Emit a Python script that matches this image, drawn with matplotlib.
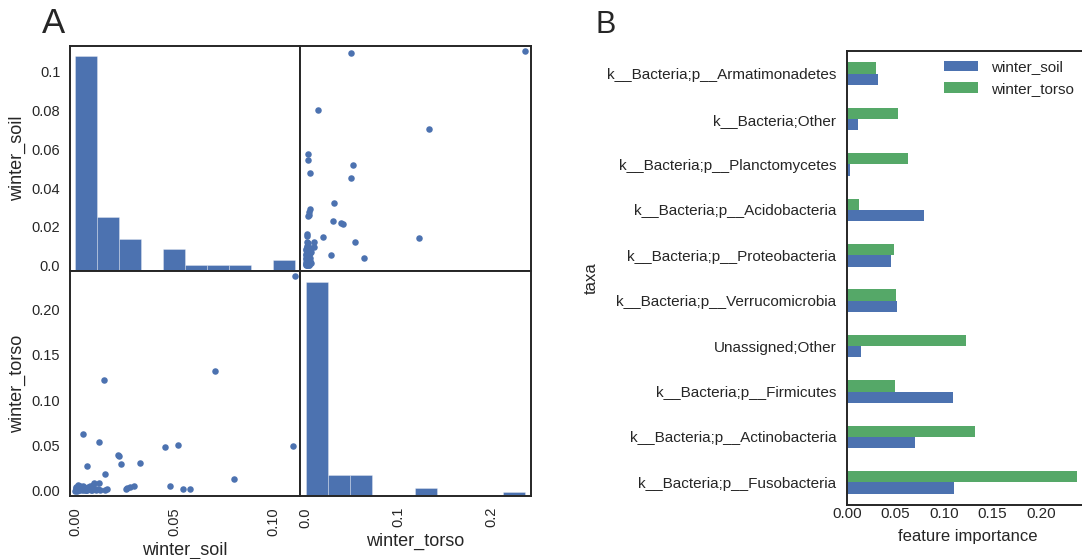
import numpy as np
import matplotlib.pyplot as plt
from matplotlib.ticker import MultipleLocator

plt.rcParams['font.family'] = ['Liberation Sans', 'DejaVu Sans']
plt.rcParams['text.color'] = '.15'
plt.rcParams['axes.labelcolor'] = '.15'
plt.rcParams['xtick.color'] = '.15'
plt.rcParams['ytick.color'] = '.15'
plt.rcParams['axes.edgecolor'] = '.15'
plt.rcParams['axes.linewidth'] = 1.4
plt.rcParams['xtick.major.size'] = 0
plt.rcParams['ytick.major.size'] = 0

BLUE = '#4C72B0'
GREEN = '#55A868'

# top 10 taxa by combined importance (bottom to top in the bar chart)
taxa = ['k__Bacteria;p__Fusobacteria', 'k__Bacteria;p__Actinobacteria',
        'k__Bacteria;p__Firmicutes', 'Unassigned;Other',
        'k__Bacteria;p__Verrucomicrobia', 'k__Bacteria;p__Proteobacteria',
        'k__Bacteria;p__Acidobacteria', 'k__Bacteria;p__Planctomycetes',
        'k__Bacteria;Other', 'k__Bacteria;p__Armatimonadetes']
soil_top = [0.1107, 0.0704, 0.1096, 0.0145, 0.0519, 0.0452, 0.0801, 0.0039, 0.0121, 0.0324]
torso_top = [0.2367, 0.1326, 0.0493, 0.1226, 0.0508, 0.0486, 0.0131, 0.0627, 0.0533, 0.0305]

# the remaining taxa
soil_rest = [0.0213, 0.0218, 0.0230, 0.0057, 0.0148, 0.0476, 0.0577, 0.0543, 0.0294,
             0.0275, 0.0256, 0.0262, 0.0162, 0.0152, 0.0122, 0.0094, 0.0124, 0.0116,
             0.0003, 0.0011, 0.0006, 0.0019, 0.0024, 0.0009, 0.0031, 0.0015, 0.0042,
             0.0037, 0.0004, 0.0052, 0.0027, 0.0061, 0.0048, 0.0013, 0.0072, 0.0035,
             0.0058, 0.0081, 0.0021, 0.0066, 0.0001, 0.0044, 0.0089, 0.0017, 0.0097,
             0.0029, 0.0055, 0.0008, 0.0076, 0.0103, 0.0039, 0.0069, 0.0002, 0.0086,
             0.0047]
torso_rest = [0.0398, 0.0380, 0.0297, 0.0269, 0.0183, 0.0046, 0.0020, 0.0020, 0.0048,
              0.0040, 0.0022, 0.0030, 0.0014, 0.0012, 0.0084, 0.0086, 0.0010, 0.0022,
              0.0012, 0.0004, 0.0031, 0.0009, 0.0047, 0.0001, 0.0022, 0.0058, 0.0006,
              0.0035, 0.0018, 0.0011, 0.0040, 0.0003, 0.0027, 0.0014, 0.0052, 0.0002,
              0.0033, 0.0008, 0.0025, 0.0044, 0.0000, 0.0019, 0.0061, 0.0007, 0.0015,
              0.0038, 0.0005, 0.0021, 0.0029, 0.0010, 0.0049, 0.0013, 0.0036, 0.0003,
              0.0016]

columns = ['winter_soil', 'winter_torso']
data = [np.array(soil_top + soil_rest), np.array(torso_top + torso_rest)]
steps_x = [0.05, 0.1]
steps_y = [0.02, 0.05]


def bounds(v, pad=0.05):
    ext = (v.max() - v.min()) * pad / 2
    return v.min() - ext, v.max() + ext


fig = plt.figure(figsize=(10.82, 5.59), dpi=100)

# ---- A: scatter matrix ----
W, H = 1082, 559
left, right, top, bottom = 70, 530.5, 45.7, 496
cw = (right - left) / 2
ch = (bottom - top) / 2
lims = [bounds(v) for v in data]
axes = [[None, None], [None, None]]
for i in range(2):
    for j in range(2):
        ax = fig.add_axes([(left + j * cw) / W, 1 - (top + (i + 1) * ch) / H, cw / W, ch / H])
        axes[i][j] = ax
        if i == j:
            ax.hist(data[i], bins=10, color=BLUE, edgecolor=(1, 1, 1, 0.35), linewidth=0.6)
            ax.set_xlim(lims[i])
        else:
            ax.scatter(data[j], data[i], s=22, color=BLUE, linewidths=0)
            ax.set_xlim(lims[j])
            ax.set_ylim(lims[i])
            ax.yaxis.set_major_locator(MultipleLocator(steps_y[i]))
        ax.xaxis.set_major_locator(MultipleLocator(steps_x[j]))
        ax.tick_params(labelsize=10.5)
        ax.tick_params(axis='x', labelrotation=90, pad=8)
        ax.tick_params(axis='y', pad=7)
        if j == 0:
            ax.set_ylabel(columns[i], fontsize=13)
        else:
            ax.yaxis.set_visible(False)
        if i == 1:
            ax.set_xlabel(columns[j], fontsize=13)
        else:
            ax.xaxis.set_visible(False)

# relabel the top-left histogram with winter_soil values
lo, hi = lims[0]
locs = np.arange(0, hi, steps_y[0])
locs = locs[(locs >= lo) & (locs <= hi)]
ylo, yhi = axes[0][0].get_ylim()
axes[0][0].set_yticks((locs - lo) / (hi - lo) * (yhi - ylo) + ylo)
axes[0][0].set_yticklabels([str(round(float(v), 6)) for v in locs])
axes[1][0].yaxis.set_major_formatter(plt.FormatStrFormatter('%.2f'))
axes[1][0].xaxis.set_major_formatter(plt.FormatStrFormatter('%.2f'))
axes[1][1].xaxis.set_major_formatter(plt.FormatStrFormatter('%.1f'))

# ---- B: feature importance ----
axb = fig.add_axes([846.7 / W, 1 - 505 / H, (1088 - 846.7) / W, (505 - 51) / H])
pos = np.arange(len(taxa))
axb.barh(pos - 0.125, soil_top, height=0.25, color=BLUE, label='winter_soil')
axb.barh(pos + 0.125, torso_top, height=0.25, color=GREEN, label='winter_torso')
axb.set_ylim(-0.5, len(taxa) - 0.5)
axb.set_xlim(0, max(torso_top) * 1.05)
axb.set_yticks(pos)
axb.set_yticklabels(taxa)
axb.xaxis.set_major_locator(MultipleLocator(0.05))
axb.xaxis.set_major_formatter(plt.FormatStrFormatter('%.2f'))
axb.tick_params(labelsize=11)
axb.tick_params(axis='y', pad=7.5)
axb.tick_params(axis='x', pad=1.5)
axb.set_xlabel('feature importance', fontsize=12, labelpad=6)
axb.set_ylabel('taxa', fontsize=12, labelpad=6)
axb.legend(loc='upper right', frameon=False, fontsize=11,
           bbox_to_anchor=(1.0, 1.01), handlelength=2.2, handletextpad=0.9)

fig.text(42 / W, 1 - 33.3 / H, 'A', fontsize=25, va='baseline')
fig.text(596 / W, 1 - 33.3 / H, 'B', fontsize=22, va='baseline')

fig.savefig('out.png', dpi=100)
